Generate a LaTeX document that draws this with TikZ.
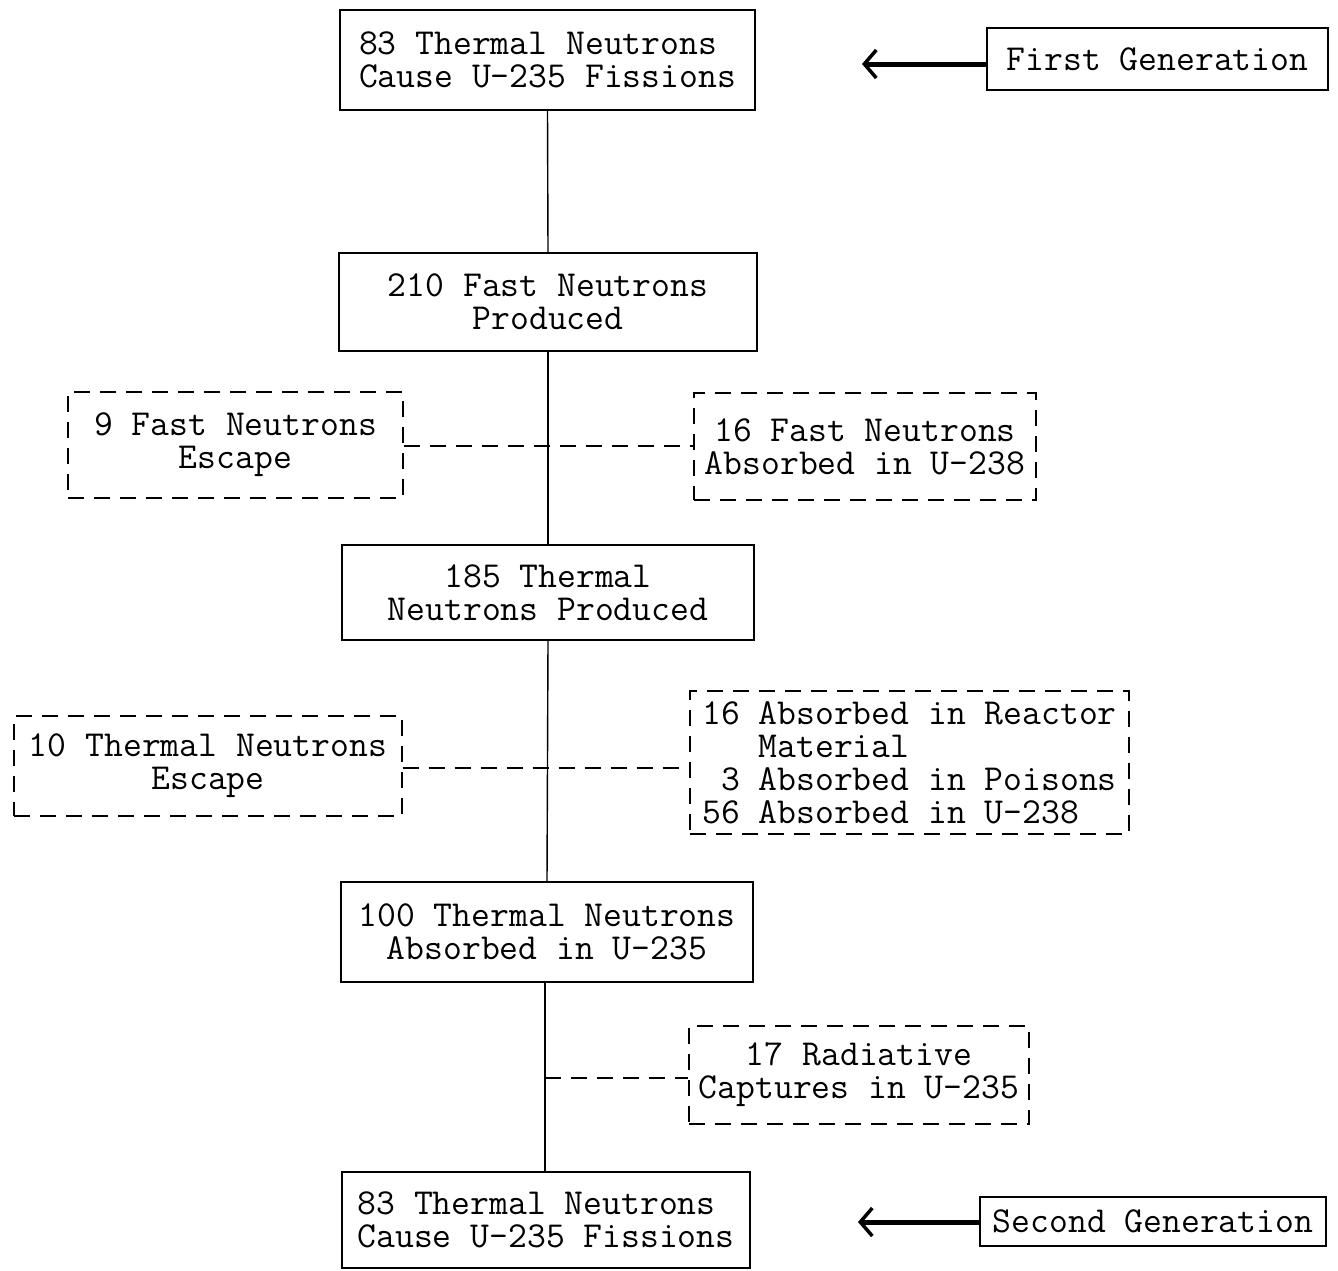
\documentclass[tikz,border=0pt]{standalone}
\usepackage{fontspec}
\usetikzlibrary{arrows.meta,calc}
\begin{document}
\begin{tikzpicture}[x=1pt,y=-1pt,
  every node/.style={font=\ttfamily\fontsize{36.6}{33}\selectfont, inner sep=0pt},
  solidbox/.style={draw, line width=1.5pt, align=center},
  dashbox/.style={draw, line width=1.4pt, dash pattern=on 16pt off 10pt, align=center},
  link/.style={line width=1.4pt},
  dashlink/.style={line width=1.4pt, dash pattern=on 16pt off 10pt},
  genarrow/.style={line width=5pt, -{Straight Barb[length=12pt,width=28pt,line width=3.5pt]}}
]
\useasboundingbox (0,0) rectangle (1338,1270);

\node[solidbox, minimum width=415pt, minimum height=100pt, align=left] (B1) at (547.5,60) {83 Thermal Neutrons\\Cause U-235 Fissions};
\node[solidbox, minimum width=341pt, minimum height=62pt] (FG) at (1157.5,59) {First Generation};
\node[solidbox, minimum width=418pt, minimum height=98pt] (B2) at (548,302) {210 Fast Neutrons\\Produced};
\node[dashbox, minimum width=335pt, minimum height=106pt] (L1) at (235.5,445) {9 Fast Neutrons\\Escape};
\node[dashbox, minimum width=342pt, minimum height=107pt] (R1) at (865,446.5) {16 Fast Neutrons\\Absorbed in U-238};
\node[solidbox, minimum width=412pt, minimum height=95pt] (B3) at (548,592.5) {185 Thermal\\Neutrons Produced};
\node[dashbox, minimum width=388pt, minimum height=100pt] (L2) at (208,766) {10 Thermal Neutrons\\Escape};
\node[dashbox, minimum width=439pt, minimum height=143pt, align=left] (R2) at (909.5,762.5) {16 Absorbed in Reactor\\\hphantom{16 }Material\\\hphantom{1}3 Absorbed in Poisons\\56 Absorbed in U-238\hphantom{xx}};
\node[solidbox, minimum width=412pt, minimum height=100pt] (B4) at (547,932) {100 Thermal Neutrons\\Absorbed in U-235};
\node[dashbox, minimum width=340pt, minimum height=98pt] (R3) at (859,1075) {17 Radiative\\Captures in U-235};
\node[solidbox, minimum width=408pt, minimum height=96pt, align=left] (B5) at (546,1220) {83 Thermal Neutrons\\Cause U-235 Fissions};
\node[solidbox, minimum width=346pt, minimum height=49pt] (SG) at (1153,1221.5) {Second Generation};

\coordinate (a1) at (862,64);
\coordinate (a2) at (858,1222);
\coordinate (m1) at (548,446);
\coordinate (m2) at (547,768);
\coordinate (m3) at (545,1078);

\draw[link] (B1.south) -- (B2.north);
\draw[link] (B2.south) -- (B3.north);
\draw[link] (B3.south) -- (B4.north);
\draw[link] (B4.south -| m3) -- (B5.north -| m3);

\draw[dashlink] (m1 -| L1.east) -- (m1 -| R1.west);
\draw[dashlink] (m2 -| L2.east) -- (m2 -| R2.west);
\draw[dashlink] (m3) -- (m3 -| R3.west);

\draw[genarrow] (a1 -| FG.west) -- (a1);
\draw[genarrow] (a2 -| SG.west) -- (a2);
\end{tikzpicture}
\end{document}
